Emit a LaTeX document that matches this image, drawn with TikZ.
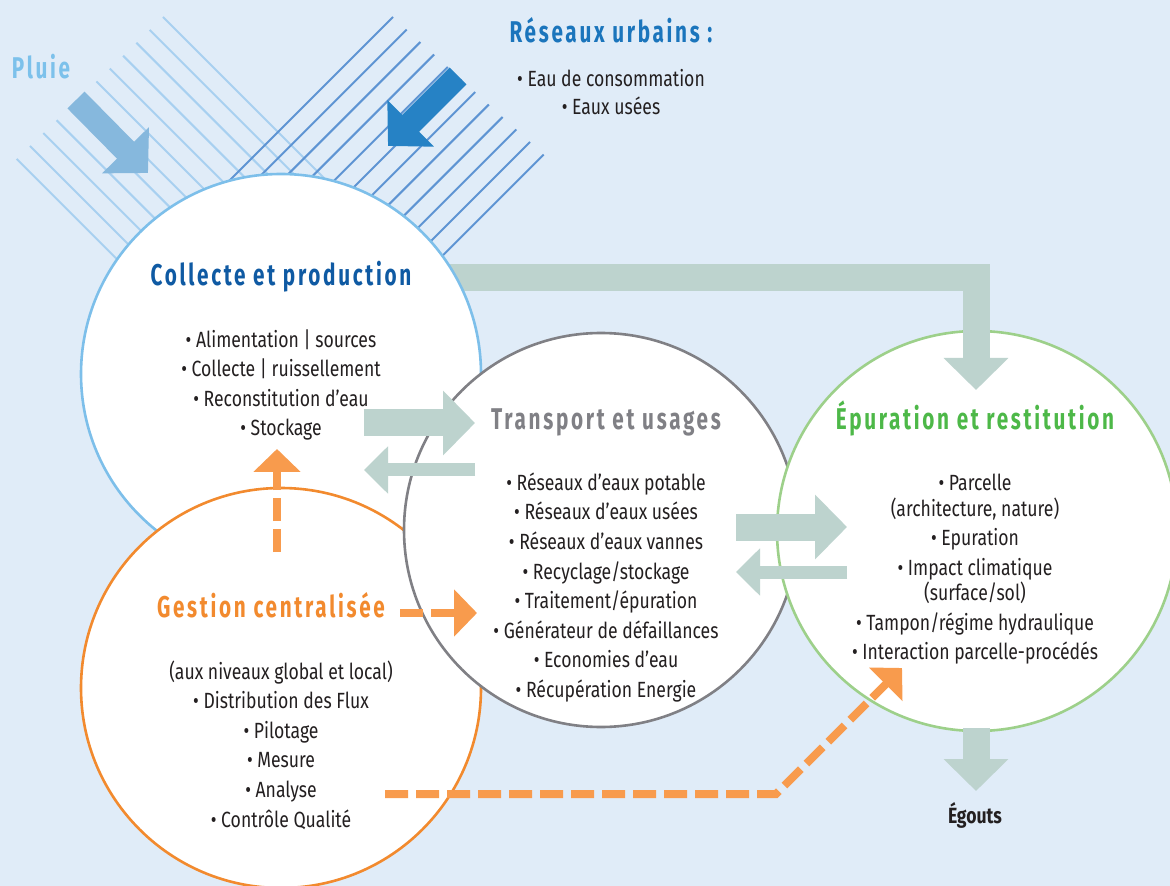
\documentclass[tikz,border=0pt]{standalone}
\usepackage{fontspec}
\setmainfont{Fira Sans}[FakeStretch=0.8]
\newfontfamily\headfont{Fira Sans}[FakeStretch=0.69,LetterSpace=9]
\usetikzlibrary{arrows.meta}

\definecolor{bgblue}{HTML}{E0ECF8}
\definecolor{ink}{HTML}{231F20}
\definecolor{collblue}{HTML}{7DBFEA}
\definecolor{colltext}{HTML}{0F5AA3}
\definecolor{rainblue}{HTML}{7CC1EB}
\definecolor{rainline}{HTML}{A8D0F0}
\definecolor{rainarrow}{HTML}{86B8DD}
\definecolor{netline}{HTML}{5E94D3}
\definecolor{netarrow}{HTML}{2682C5}
\definecolor{nettext}{HTML}{1B75BC}
\definecolor{transgray}{HTML}{808085}
\definecolor{epurgreen}{HTML}{9DD08A}
\definecolor{epurtext}{HTML}{4DB848}
\definecolor{gestorange}{HTML}{F28A2E}
\definecolor{pilotorange}{HTML}{F89B4D}
\definecolor{flowgray}{HTML}{BDD3CE}

\begin{document}
\begin{tikzpicture}[x=0.5pt, y=-0.5pt]
    \tikzstyle{zone} = [circle, fill=white, line width=1.3pt, minimum size=200pt, inner sep=0pt]
    \tikzstyle{headline} = [anchor=base, inner sep=0pt, font=\headfont\bfseries\fontsize{15}{18}\selectfont]
    \tikzstyle{items} = [align=center, inner sep=0pt, text=ink, font=\fontsize{11}{14.8}\selectfont]
    \tikzstyle{flow} = [draw=flowgray, line width=13.5pt, -{Triangle[length=16pt, width=31.5pt]}]
    \tikzstyle{backflow} = [draw=flowgray, line width=6.5pt, -{Triangle[length=12pt, width=23pt]}]
    \tikzstyle{pilot} = [draw=pilotorange, line width=4pt, dash pattern=on 11.5pt off 4pt, -{Triangle[length=11.5pt, width=23pt]}]
    \tikzstyle{inflow} = [line width=12pt, -{Triangle[length=16pt, width=32pt]}]

    \useasboundingbox (0,0) rectangle (1170,886);
    \fill[bgblue] (0,0) rectangle (1170,886);

    % rain and network hatching
    \foreach \i in {0,...,11}{
        \pgfmathsetmacro\hx{163-13.3*\i}
        \pgfmathsetmacro\hy{17+12.9*\i}
        \pgfmathsetmacro\hd{(281-\hx+374-\hy)/2}
        \draw[rainline, line width=1pt] (\hx,\hy) -- ++(\hd,\hd);
    }
    \foreach \i in {0,...,11}{
        \pgfmathsetmacro\hx{393+13.7*\i}
        \pgfmathsetmacro\hy{17+12.5*\i}
        \pgfmathsetmacro\hd{(\hx-281+374-\hy)/2}
        \draw[netline, line width=1pt] (\hx,\hy) -- ++(-\hd,\hd);
    }

    \coordinate (rain-from) at (76,100);
    \coordinate (rain-to) at (148,173);
    \coordinate (net-from) at (458,76);
    \coordinate (net-to) at (388,146);
    \draw[inflow, draw=rainarrow] (rain-from) -- (rain-to);
    \draw[inflow, draw=netarrow] (net-from) -- (net-to);

    \coordinate (band-start) at (430,277.5);
    \coordinate (band-turn) at (976,277.5);
    \coordinate (band-mid) at (976,318);
    \draw[flow, -] (band-start) -- (band-turn) -- (band-mid);

    \node[zone, draw=collblue] (collecte) at (281,374) {};
    \node[zone, draw=gestorange] (gestion) at (281,688) {};
    \node[zone, draw=transgray, minimum size=197pt] (transport) at (601,530) {};
    \node[zone, draw=epurgreen] (epuration) at (977,531) {};

    \coordinate (band-end) at (976,390);
    \draw[flow] (band-mid) -- (band-end);

    \coordinate (c2t-from) at (364,423);
    \coordinate (c2t-to) at (475,423);
    \coordinate (t2c-from) at (475,470);
    \coordinate (t2c-to) at (364,470);
    \coordinate (t2e-from) at (736,527);
    \coordinate (t2e-to) at (847,527);
    \coordinate (e2t-from) at (847,572);
    \coordinate (e2t-to) at (736,572);
    \coordinate (drain-from) at (976,728);
    \coordinate (drain-to) at (976,791);
    \draw[flow] (c2t-from) -- (c2t-to);
    \draw[backflow] (t2c-from) -- (t2c-to);
    \draw[flow] (t2e-from) -- (t2e-to);
    \draw[backflow] (e2t-from) -- (e2t-to);
    \draw[flow] (drain-from) -- (drain-to);

    \coordinate (pilot-up-from) at (277,552);
    \coordinate (pilot-up-to) at (277,449);
    \coordinate (pilot-mid-from) at (400,613);
    \coordinate (pilot-mid-to) at (477,613);
    \coordinate (pilot-low-from) at (385,794);
    \coordinate (pilot-low-turn) at (776,794);
    \coordinate (pilot-low-to) at (902,668);
    \draw[pilot] (pilot-up-from) -- (pilot-up-to);
    \draw[pilot] (pilot-mid-from) -- (pilot-mid-to);
    \draw[pilot] (pilot-low-from) -- (pilot-low-turn) -- (pilot-low-to);

    \node[headline, text=rainblue] (pluie-title) at (41,79) {Pluie};
    \node[headline, text=nettext] (reseaux-title) at (611,43) {Réseaux urbains :};
    \node[items, font=\fontsize{11}{14}\selectfont] (reseaux-list) at (611,92)
        {• Eau de consommation\\ • Eaux usées};

    \node[headline, text=colltext] (collecte-title) at (281,286) {Collecte et production};
    \node[items] (collecte-list) at (281,385)
        {• Alimentation | sources\\ • Collecte | ruissellement\\ • Reconstitution d'eau\\ • Stockage};

    \node[headline, text=transgray] (transport-title) at (606,430) {Transport et usages};
    \node[items] (transport-list) at (606,587.5)
        {• Réseaux d'eaux potable\\ • Réseaux d'eaux usées\\ • Réseaux d'eaux vannes\\ • Recyclage/stockage\\
         • Traitement/épuration\\ • Générateur de défaillances\\ • Economies d'eau\\ • Récupération Energie};

    \node[headline, text=epurtext] (epuration-title) at (975,430) {Épuration et restitution};
    \node[items] (epuration-list) at (975,569)
        {• Parcelle\\[-1.8pt] (architecture, nature)\\ • Epuration\\ • Impact climatique\\[-2.3pt] (surface/sol)\\
         • Tampon/régime hydraulique\\ • Interaction parcelle-procédés};

    \node[headline, text=gestorange] (gestion-title) at (271,617) {Gestion centralisée};
    \node[items] (gestion-list) at (281,745)
        {(aux niveaux global et local)\\ • Distribution des Flux\\ • Pilotage\\ • Mesure\\ • Analyse\\ • Contrôle Qualité};

    \node[anchor=base, inner sep=0pt, text=ink, font=\bfseries\fontsize{11}{13}\selectfont] (egouts) at (975,823) {Égouts};
\end{tikzpicture}
\end{document}
